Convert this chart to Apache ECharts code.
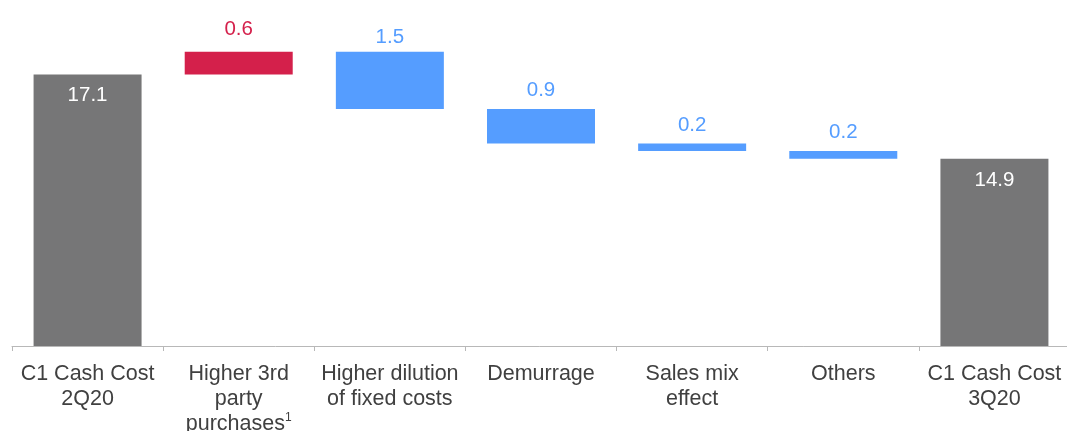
<!DOCTYPE html>
<html>
<head>
<meta charset="utf-8">
<script src="https://cdn.jsdelivr.net/npm/echarts@6/dist/echarts.min.js"></script>
<style>
  html, body { margin: 0; padding: 0; background: #fff; }
  #waterfall { width: 1067px; height: 431px; }
</style>
</head>
<body>
<div id="waterfall"></div>
<script>
var categories = ['C1 Cash Cost\n2Q20', 'Higher 3rd\nparty\npurchases{sup|1}', 'Higher dilution\nof fixed costs', 'Demurrage', 'Sales mix\neffect', 'Others', 'C1 Cash Cost\n3Q20'];
// start / end totals and the steps in between (+ up, - down)
var startTotal = 17.1;
var endTotal = 14.9;
var steps = [0.6, -1.5, -0.9, -0.2, -0.2];

var grey = '#767677';
var red = '#d4204b';
var blue = '#559dff';
// label gap above each step bar (the source is a bit uneven)
var gapAbove = { 1: 12, 2: 4 };

var chart = echarts.init(document.getElementById('waterfall'));

// build the floating bars: an invisible base plus the visible piece
var baseData = [0];
var barData = [{ value: startTotal, itemStyle: { color: grey }, label: { position: 'insideTop', color: '#fff', distance: 10 } }];
var level = startTotal;
for (var i = 0; i < steps.length; i++) {
  var s = steps[i];
  var next = level + s;
  baseData.push(+Math.min(level, next).toFixed(2));
  barData.push({
    value: Math.abs(s),
    itemStyle: { color: s > 0 ? red : blue },
    label: { position: 'top', color: s > 0 ? red : blue, distance: gapAbove[i + 1] || 8 }
  });
  level = next;
}
baseData.push(0);
barData.push({ value: endTotal, itemStyle: { color: grey }, label: { position: 'insideTop', color: '#fff', distance: 11 } });

var option = {
  backgroundColor: '#fff',
  animation: false,
  // fixed plot box; let the third label line run off the bottom like the source
  grid: { left: 12, top: 2, width: 1058, bottom: 85, containLabel: false, outerBoundsMode: 'none' },
  xAxis: {
    type: 'category',
    data: categories,
    axisLine: { lineStyle: { color: '#b8b8b8', width: 1 } },
    axisTick: { show: true, length: 5, lineStyle: { color: '#b8b8b8' } },
    axisLabel: {
      interval: 0,
      color: '#404040',
      fontFamily: 'Liberation Sans',
      fontSize: 21.5,
      lineHeight: 25,
      margin: 16,
      rich: {
        sup: { fontSize: 12, lineHeight: 25, verticalAlign: 'top', color: '#404040', fontFamily: 'Liberation Sans' }
      }
    }
  },
  yAxis: {
    type: 'value',
    min: 10,
    max: 19,
    show: false,
    splitLine: { show: false }
  },
  series: [
    {
      type: 'bar',
      stack: 'w',
      data: baseData,
      itemStyle: { color: 'transparent' },
      silent: true
    },
    {
      type: 'bar',
      stack: 'w',
      barWidth: 108,
      data: barData,
      label: {
        show: true,
        fontFamily: 'Liberation Sans',
        fontSize: 20.5,
        formatter: function (p) { return p.value.toFixed(1); }
      }
    }
  ]
};

chart.setOption(option);
</script>
</body>
</html>
